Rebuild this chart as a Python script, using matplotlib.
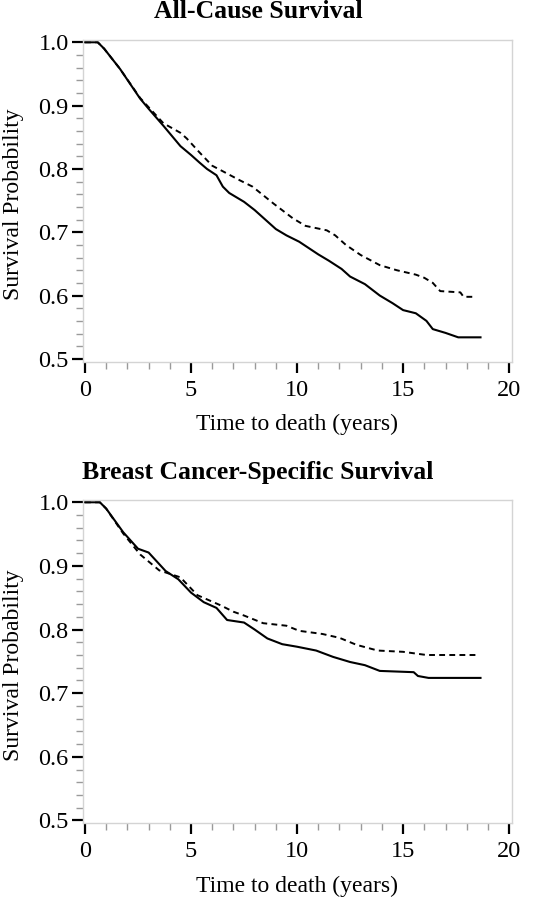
import matplotlib
matplotlib.use("Agg")
import matplotlib.pyplot as plt
from matplotlib.ticker import MultipleLocator

plt.rcParams['font.family'] = ['Liberation Serif', 'DejaVu Serif']

# ---- data (time in years, survival probability) ----
ac_solid_t = [0, 0.6, 0.9, 1.65, 2.6, 3.0, 3.7, 4.5, 5.0, 5.4, 5.75, 6.2, 6.5, 6.8, 7.5, 8.0,
              8.5, 9.0, 9.5, 10.1, 11.0, 11.5, 12.1, 12.5, 13.2, 13.9, 14.5, 15.0, 15.6, 16.1,
              16.4, 17.0, 17.6, 18.65]
ac_solid_s = [1.0, 1.0, 0.99, 0.958, 0.911, 0.895, 0.868, 0.836, 0.822, 0.810, 0.800, 0.790,
              0.772, 0.762, 0.748, 0.735, 0.720, 0.705, 0.695, 0.685, 0.665, 0.655, 0.642,
              0.630, 0.618, 0.600, 0.588, 0.577, 0.572, 0.560, 0.547, 0.541, 0.534, 0.534]

ac_dash_t = [0, 0.6, 0.9, 1.65, 2.6, 3.7, 4.5, 4.8, 5.4, 6.0, 6.4, 7.3, 7.9, 8.9, 9.8, 10.4,
             11.4, 11.8, 12.3, 13.0, 13.9, 14.7, 15.6, 16.0, 16.4, 16.75, 17.7, 17.85, 18.45]
ac_dash_s = [1.0, 1.0, 0.99, 0.958, 0.912, 0.872, 0.857, 0.848, 0.826, 0.805, 0.798, 0.782,
             0.772, 0.745, 0.722, 0.710, 0.703, 0.695, 0.680, 0.664, 0.648, 0.640, 0.633,
             0.628, 0.620, 0.607, 0.605, 0.598, 0.598]

bc_solid_t = [0, 0.7, 1.0, 1.8, 2.5, 3.0, 3.8, 4.4, 5.0, 5.6, 6.2, 6.7, 7.5, 8.0, 8.6, 9.3,
              10.0, 10.9, 11.7, 12.5, 13.2, 13.9, 15.5, 15.7, 16.2, 18.65]
bc_solid_s = [1.0, 1.0, 0.99, 0.953, 0.927, 0.921, 0.892, 0.879, 0.858, 0.843, 0.834, 0.815,
              0.811, 0.800, 0.786, 0.777, 0.773, 0.767, 0.757, 0.749, 0.744, 0.735, 0.733,
              0.727, 0.724, 0.724]

bc_dash_t = [0, 0.7, 1.0, 1.8, 2.6, 3.5, 4.5, 5.3, 6.4, 7.0, 7.5, 8.4, 9.5, 10.1, 11.2, 12.0,
             12.8, 13.8, 15.0, 16.1, 18.6]
bc_dash_s = [1.0, 1.0, 0.99, 0.951, 0.918, 0.893, 0.882, 0.854, 0.838, 0.828, 0.822, 0.810,
             0.806, 0.798, 0.793, 0.787, 0.776, 0.767, 0.765, 0.760, 0.760]

titles = ["All-Cause Survival", "Breast Cancer-Specific Survival"]
yticks = [0.5, 0.6, 0.7, 0.8, 0.9, 1.0]
xticks = [0, 5, 10, 15, 20]

fig = plt.figure(figsize=(5.35, 9), dpi=100)
ax1 = fig.add_axes([0.1557, 0.5981, 0.8007, 0.3574])
ax2 = fig.add_axes([0.1557, 0.0852, 0.8007, 0.3592])

panels = [
    (ax1, ac_solid_t, ac_solid_s, ac_dash_t, ac_dash_s),
    (ax2, bc_solid_t, bc_solid_s, bc_dash_t, bc_dash_s),
]

for ax, st, ss, dt, ds in panels:
    ax.plot(st, ss, color="black", lw=1.5)
    ax.plot(dt, ds, color="black", lw=1.4, linestyle=(0, (3, 2.2)))
    ax.set_xlim(-0.08, 20.12)
    ax.set_ylim(0.4955, 1.0035)
    ax.set_xticks(xticks)
    ax.set_yticks(yticks)
    ax.set_yticklabels([f"{v:.1f}" for v in yticks])
    ax.xaxis.set_minor_locator(MultipleLocator(1))
    ax.yaxis.set_minor_locator(MultipleLocator(0.02))
    for sp in ax.spines.values():
        sp.set_color("#d4d4d4")
        sp.set_linewidth(1.0)
    ax.tick_params(which="major", direction="out", length=8, width=1.6, color="black",
                   labelsize=17.5, pad=2.5)
    ax.tick_params(axis="x", which="major", pad=5)
    ax.tick_params(which="minor", direction="out", length=5, width=1.0, color="#9a9a9a")
    ax.set_xlabel("Time to death (years)", fontsize=17)
    ax.set_ylabel("Survival Probability", fontsize=17)
    ax.xaxis.set_label_coords(0.5, -0.194)
    ax.xaxis.label.set_va("center")
    ax.yaxis.set_label_coords(-0.164, 0.49)
    ax.yaxis.label.set_va("center")

fig.text(0.482, 1 - 11 / 900, titles[0], ha="center", va="center", fontsize=18.5, fontweight="bold")
fig.text(0.482, 1 - 472 / 900, titles[1], ha="center", va="center", fontsize=18.5, fontweight="bold")

fig.savefig("out.png", dpi=100)
